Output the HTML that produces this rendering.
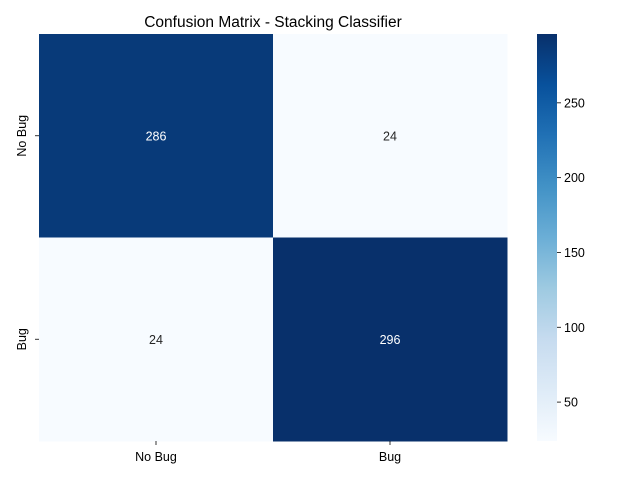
<!DOCTYPE html>
<html><head><meta charset="utf-8"><style>
html,body{margin:0;padding:0;background:#fff;}
svg{display:block;font-family:"Liberation Sans","DejaVu Sans",sans-serif;}
</style></head><body>
<svg id="chart" width="640" height="480" viewBox="0 0 640 480">
<rect width="640" height="480" fill="#fff"/>
<text x="273" y="27" font-size="15.5" text-anchor="middle" fill="#000">Confusion Matrix - Stacking Classifier</text>
<g id="cells"></g>
<g id="axes"></g>
<defs><linearGradient id="cbgrad" x1="0" y1="1" x2="0" y2="0" id2="g"></linearGradient></defs>
<g id="cbar"></g>
</svg>
<script>
const labels = ["No Bug", "Bug"];
const matrix = [[286, 24], [24, 296]];
const cbTicks = [50, 100, 150, 200, 250];

const vmin = 24, vmax = 296;
const L = 39, T = 34, W = 468, H = 407;
const blues = ["#f7fbff","#deebf7","#c6dbef","#9ecae1","#6baed6","#4292c6","#2171b5","#08519c","#08306b"];
function hex(h){return [1,3,5].map(i=>parseInt(h.substr(i,2),16));}
function cmap(t){
  t=Math.max(0,Math.min(1,t));
  const p=t*(blues.length-1), i=Math.min(Math.floor(p),blues.length-2), f=p-i;
  const a=hex(blues[i]), b=hex(blues[i+1]);
  return "rgb("+a.map((v,k)=>Math.round(v+(b[k]-v)*f)).join(",")+")";
}
const ns="http://www.w3.org/2000/svg";
function mk(tag, attrs, parent){const e=document.createElementNS(ns,tag);for(const k in attrs)e.setAttribute(k,attrs[k]);parent.appendChild(e);return e;}
const n=labels.length, cw=W/n, ch=H/n;
const xPos=j=>L+j*cw, yPos=i=>T+i*ch;
const cells=document.getElementById("cells"), axes=document.getElementById("axes");
for(let i=0;i<n;i++){
  for(let j=0;j<n;j++){
    const v=matrix[i][j], t=(v-vmin)/(vmax-vmin);
    const r=mk("rect",{x:xPos(j),y:yPos(i),width:cw+0.5,height:ch+0.5,fill:cmap(t)},cells);
    
    
    const tx=mk("text",{x:xPos(j)+cw/2,y:yPos(i)+ch/2+4.5,"font-size":"12.5","text-anchor":"middle",fill:t>0.5?"#fff":"#262626"},cells);
    tx.textContent=v;
    
    
  }
}
for(let k=0;k<n;k++){
  const x=xPos(k)+cw/2;
  mk("line",{x1:x,x2:x,y1:T+H,y2:T+H+4,stroke:"#000","stroke-width":0.8},axes);
  const tx=mk("text",{x:x,y:T+H+20,"font-size":"12.5","text-anchor":"middle",fill:"#000"},axes);
  tx.textContent=labels[k];
  
  
  const y=yPos(k)+ch/2;
  mk("line",{x1:L-4,x2:L,y1:y,y2:y,stroke:"#000","stroke-width":0.8},axes);
  const ty=mk("text",{x:0,y:0,"font-size":"12.5","text-anchor":"middle",fill:"#000",transform:"translate("+(L-13)+","+y+") rotate(-90)"},axes);
  ty.textContent=labels[k];
  
  
}
// colorbar
const cbX=537, cbW=20, cbT=T, cbH=H;
const grad=document.getElementById("cbgrad");
blues.forEach((c,i)=>mk("stop",{offset:(i/(blues.length-1)),"stop-color":c},grad));
const cb=document.getElementById("cbar");
const cbr=mk("rect",{x:cbX,y:cbT,width:cbW,height:cbH,fill:"url(#cbgrad)"},cb);


const cbY=v=>cbT+cbH-(v-vmin)/(vmax-vmin)*cbH;
cbTicks.forEach(v=>{
  const y=cbY(v);
  mk("line",{x1:cbX+cbW,x2:cbX+cbW+4,y1:y,y2:y,stroke:"#000","stroke-width":0.8},cb);
  const tx=mk("text",{x:cbX+cbW+7,y:y+4.5,"font-size":"12.5",fill:"#000"},cb);
  tx.textContent=v;
  
  
});
</script>
</body></html>
